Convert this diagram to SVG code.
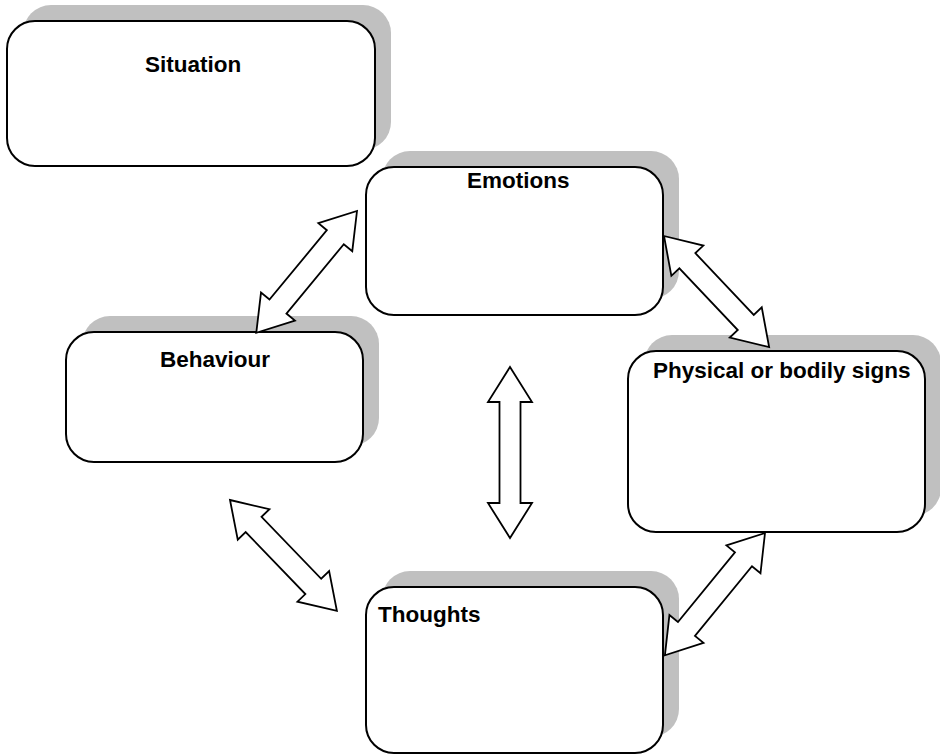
<svg xmlns="http://www.w3.org/2000/svg" width="940" height="755" viewBox="0 0 940 755">
<style>
.shadow{fill:#c0c0c0;stroke:none}
.box{fill:#ffffff;stroke:#000000;stroke-width:2}
.label{font-family:"Liberation Sans",Arial,sans-serif;font-weight:bold;font-size:22.5px;fill:#000000}
.arrow{fill:#ffffff;stroke:#000000;stroke-width:1.8;stroke-linejoin:miter}
</style>
<rect x="0" y="0" width="940" height="755" fill="#ffffff"/>
<g id="situation">
<rect class="shadow" x="23" y="5" width="368" height="145" rx="28" ry="28"/>
<rect class="box" x="7" y="21" width="368" height="145" rx="28" ry="28"/>
<text class="label" x="145" y="72">Situation</text>
</g>
<g id="emotions">
<rect class="shadow" x="382" y="151" width="297" height="148" rx="28" ry="28"/>
<rect class="box" x="366" y="167" width="297" height="148" rx="28" ry="28"/>
<text class="label" x="467" y="188">Emotions</text>
</g>
<g id="behaviour">
<rect class="shadow" x="82" y="316" width="297" height="130" rx="28" ry="28"/>
<rect class="box" x="66" y="332" width="297" height="130" rx="28" ry="28"/>
<text class="label" x="160" y="367">Behaviour</text>
</g>
<g id="physical">
<rect class="shadow" x="644" y="335" width="297" height="181" rx="28" ry="28"/>
<rect class="box" x="628" y="351" width="297" height="181" rx="28" ry="28"/>
<text class="label" x="653" y="378">Physical or bodily signs</text>
</g>
<g id="thoughts">
<rect class="shadow" x="382" y="571" width="297" height="166" rx="28" ry="28"/>
<rect class="box" x="366" y="587" width="297" height="166" rx="28" ry="28"/>
<text class="label" x="378" y="622">Thoughts</text>
</g>
<g id="connectors">
<polygon class="arrow" transform="translate(357,211) rotate(129.6)" points="0,0 34,-22 34,-11 124,-11 124,-22 158,0 124,22 124,11 34,11 34,22"/>
<polygon class="arrow" transform="translate(664,236) rotate(46.6)" points="0,0 34,-22 34,-11 119,-11 119,-22 153,0 119,22 119,11 34,11 34,22"/>
<polygon class="arrow" transform="translate(510,367) rotate(90)" points="0,0 35,-22 35,-10.5 136,-10.5 136,-22 171,0 136,22 136,10.5 35,10.5 35,22"/>
<polygon class="arrow" transform="translate(230,500) rotate(46.05)" points="0,0 34,-22 34,-11 120,-11 120,-22 154,0 120,22 120,11 34,11 34,22"/>
<polygon class="arrow" transform="translate(765,533) rotate(129.3)" points="0,0 34,-22 34,-11 124,-11 124,-22 158,0 124,22 124,11 34,11 34,22"/>
</g>
</svg>
